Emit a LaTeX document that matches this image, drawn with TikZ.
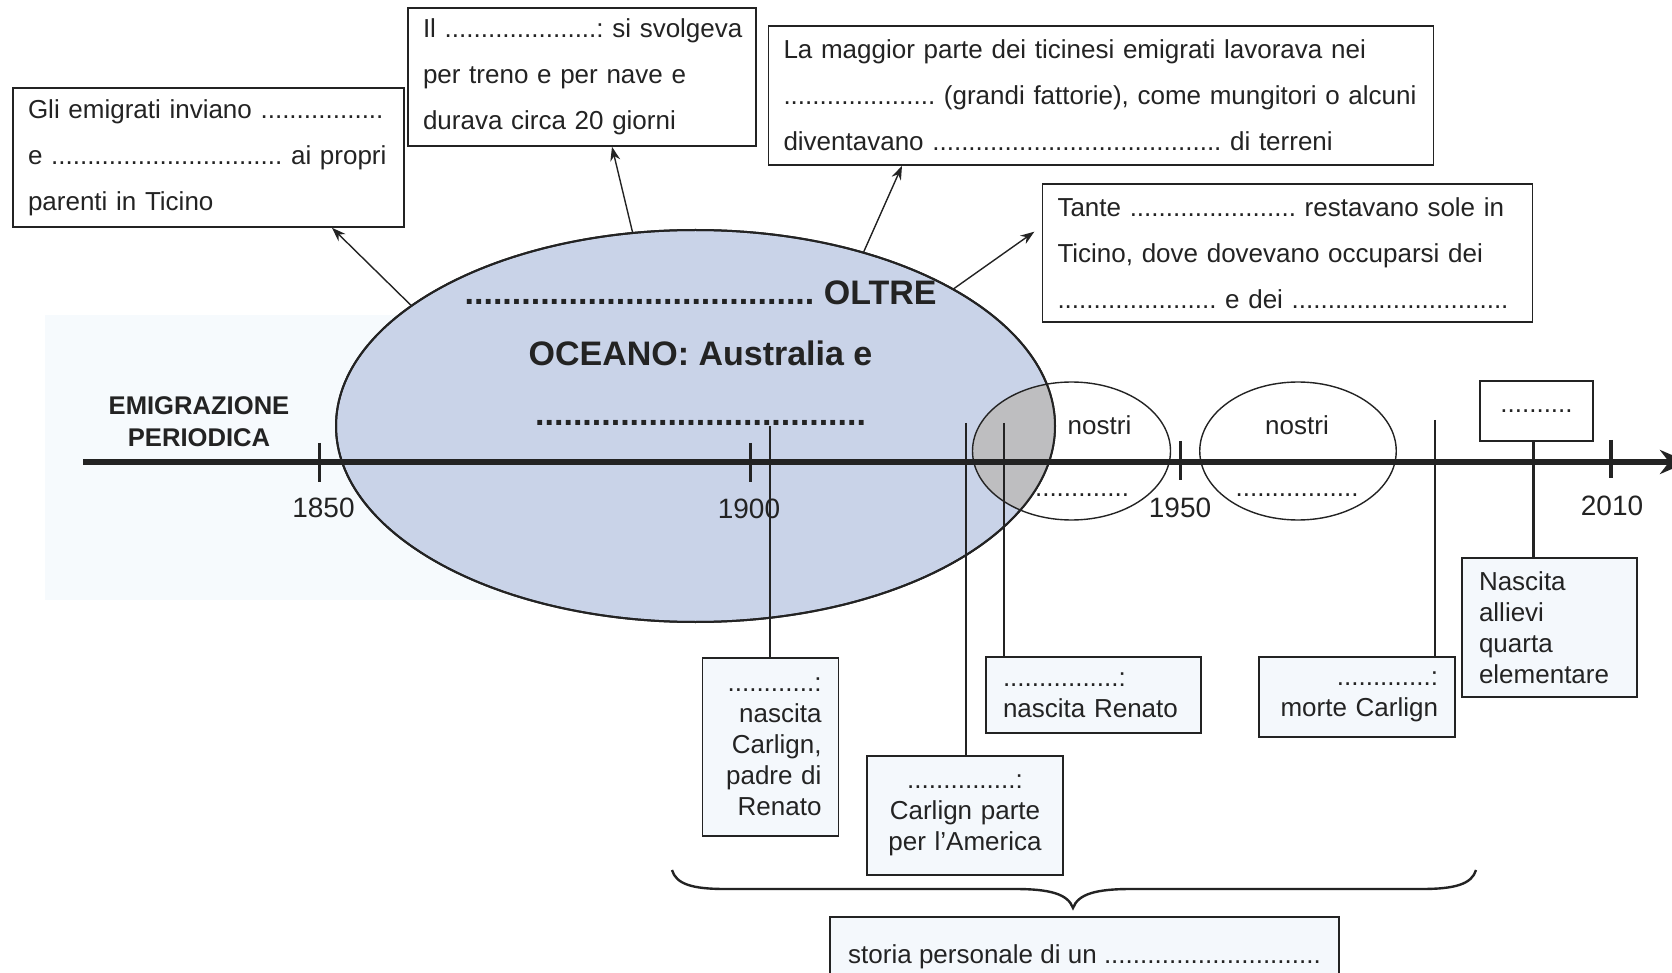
\documentclass[tikz,border=0pt]{standalone}
\usepackage{fontspec}
\setmainfont{Liberation Sans}
\usetikzlibrary{arrows.meta,shapes.geometric}
\definecolor{ink}{RGB}{35,35,35}
\definecolor{ovalblue}{RGB}{201,211,232}
\definecolor{overlapgray}{RGB}{190,190,192}
\definecolor{boxtint}{RGB}{244,248,252}
\definecolor{bgtint}{RGB}{246,250,253}
\frenchspacing
\hyphenpenalty=10000
\exhyphenpenalty=10000
\begin{document}
\begin{tikzpicture}[x=0.5pt,y=-0.5pt,
 every node/.style={text=ink},
 topbox/.style={draw=ink,line width=0.8pt,fill=white,inner xsep=7.5pt,inner ysep=0pt,align=left,font=\fontsize{13}{23}\selectfont\frenchspacing},
 lowbox/.style={draw=ink,line width=0.8pt,fill=boxtint,inner xsep=8.5pt,inner ysep=0pt,font=\fontsize{13}{15.5}\selectfont\frenchspacing},
 yearlabel/.style={font=\fontsize{14}{16}\selectfont},
 oval/.style={ellipse,draw=ink,inner sep=0pt},
 pointer/.style={draw=ink,line width=0.7pt,-{Stealth[length=7pt,width=5pt]}},
 stem/.style={draw=ink,line width=0.7pt},
 tickmark/.style={draw=ink,line width=1.8pt},
 oceanfont/.style={font=\bfseries\fontsize{17}{20}\selectfont\frenchspacing,anchor=base},
 plain/.style={font=\fontsize{13}{15}\selectfont,anchor=base},
]
\useasboundingbox (0,0) rectangle (1672,973);
\fill[bgtint] (45,315) rectangle (700,600);

% big ellipse
\node[oval,fill=ovalblue,line width=1pt,minimum width=359.5pt,minimum height=196pt] (ocean) at (695.5,426) {};
\begin{scope}
 \clip (695.5,426) ellipse [x radius=179.75pt,y radius=98pt];
 \fill[overlapgray] (1071.5,451) ellipse [x radius=49.5pt,y radius=34.5pt];
\end{scope}
\draw[ink,line width=1pt] (695.5,426) ellipse [x radius=179.75pt,y radius=98pt];

% small ellipses
\node[oval,line width=0.7pt,minimum width=99pt,minimum height=69pt] (e1) at (1071.5,451) {};
\node[oval,line width=0.7pt,minimum width=98.25pt,minimum height=69pt] (e2) at (1298,451) {};
\node[plain] (n1) at (1099.5,435) {nostri};
\node[plain] (n2) at (1297,435) {nostri};
\node[plain] (d1) at (1082,496) {.............};
\node[plain] (d2) at (1297,496) {.................};

% ellipse text
\node[oceanfont] (ot1) at (700.5,305) {..................................... OLTRE};
\node[oceanfont] (ot2) at (700.5,366) {OCEANO: Australia e};
\node[oceanfont] (ot3) at (700.5,425) {...................................};

\node[font=\bfseries\fontsize{12.8}{16}\selectfont,align=center] (emig) at (199,422) {EMIGRAZIONE\\PERIODICA};

% timeline
\coordinate (tlstart) at (83,462);
\coordinate (tlend) at (1688,462);
\draw[ink,line width=2.8pt,-{Stealth[length=14pt,width=12pt]}] (tlstart) -- (tlend);
\draw[tickmark] (319.5,443) -- (319.5,482);
\draw[tickmark] (750.5,443) -- (750.5,482);
\draw[tickmark] (1180.5,441) -- (1180.5,480);
\draw[tickmark] (1611,440) -- (1611,478);
\node[yearlabel] (y1850) at (323.5,508) {1850};
\node[yearlabel] (y1900) at (749,509) {1900};
\node[yearlabel] (y1950) at (1180,508) {1950};
\node[yearlabel] (y2010) at (1612,506) {2010};

% top boxes
\node[topbox,text width=180.5pt,minimum height=69.5pt] (b1) at (208.5,157.5) {\mbox{Gli emigrati inviano .................}\\\mbox{e ................................ ai propri}\\\mbox{parenti in Ticino}};
\node[topbox,text width=159pt,minimum height=69pt] (b2) at (582,77) {\mbox{Il .....................: si svolgeva}\\\mbox{per treno e per nave e}\\\mbox{durava circa 20 giorni}};
\node[topbox,text width=317.5pt,minimum height=69.5pt] (b3) at (1101,95.5) {\mbox{La maggior parte dei ticinesi emigrati lavorava nei}\\\mbox{..................... (grandi fattorie), come mungitori o alcuni}\\\mbox{diventavano ........................................ di terreni}};
\node[topbox,text width=230pt,minimum height=69pt] (b4) at (1287.5,253) {\mbox{Tante ....................... restavano sole in}\\\mbox{Ticino, dove dovevano occuparsi dei}\\\mbox{...................... e dei ..............................}};

% arrows from the ellipse
\draw[pointer] (ocean.157) -- ([xshift=61.75pt]b1.south);
\draw[pointer] (ocean.108) -- ([xshift=15pt]b2.south);
\draw[pointer] (ocean.46) -- ([xshift=-99.5pt]b3.south);
\draw[pointer,shorten >=4.5pt] (ocean.28) -- ([yshift=13.25pt]b4.west);

% lower boxes
\node[lowbox,align=right,text width=51pt,minimum height=89pt] (bC) at (770.5,747) {............:\\nascita\\Carlign,\\padre di\\Renato};
\node[lowbox,align=center,text width=81pt,minimum height=59.5pt] (bA) at (965,815.5) {...............:\\Carlign parte\\per l’America};
\node[lowbox,align=left,text width=90.5pt,minimum height=38pt] (bR) at (1093.5,695) {................:\\nascita Renato};
\node[lowbox,align=right,text width=81pt,minimum height=40pt] (bM) at (1357,697) {.............:\\morte Carlign};
\node[lowbox,align=left,text width=70.5pt,minimum height=69.5pt] (bN) at (1549.5,627.5) {Nascita\\allievi\\quarta\\elementare};
\node[lowbox,fill=white,minimum width=56.5pt,minimum height=30pt] (bD) at (1536.5,411) {..........};
\node[lowbox,minimum width=254.5pt,minimum height=40pt] (bS) at (1084.5,957) {storia personale di un ..............................};

% stems
\coordinate (s1) at (770,426);
\coordinate (s2) at (966,423);
\coordinate (s3) at (1004,423);
\coordinate (s4) at (1435,420);
\draw[stem] (s1) -- (s1 |- bC.north);
\draw[stem] (s2) -- (s2 |- bA.north);
\draw[stem] (s3) -- (s3 |- bR.north);
\draw[stem] (s4) -- (s4 |- bM.north);
\draw[stem,line width=1.2pt] ([xshift=-1.5pt]bD.south) -- ([xshift=-1.5pt]bD.south |- bN.north);

% brace
\coordinate (brL) at (672,870);
\coordinate (brR) at (1476,870);
\coordinate (brTip) at (1073,908);
\draw[ink,line width=1.2pt] (brL) .. controls (676,884) and (692,889) .. (725,889) -- (1015,889) .. controls (1050,889) and (1068,894) .. (brTip) .. controls (1078,894) and (1096,889) .. (1131,889) -- (1422,889) .. controls (1455,889) and (1472,884) .. (brR);
\end{tikzpicture}
\end{document}
